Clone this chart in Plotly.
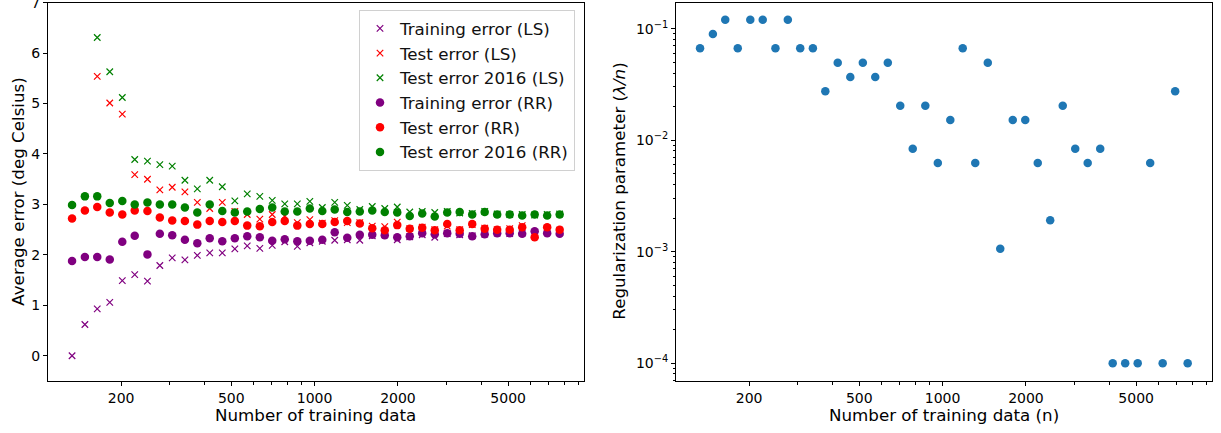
import plotly.graph_objects as go
from plotly.subplots import make_subplots

# ---------------- data ----------------
n_train = [133, 148, 164, 182, 202, 224, 249, 276, 306, 340,
           377, 418, 464, 515, 571, 634, 703, 780, 866, 961,
           1066, 1182, 1312, 1456, 1615, 1792, 1988, 2206, 2447, 2716,
           3013, 3342, 3709, 4115, 4565, 5066, 5620, 6235, 6918, 7676]

train_ls = [0.00, 0.62, 0.93, 1.06, 1.49, 1.61, 1.48, 1.79, 1.94, 1.90,
            1.99, 2.04, 2.04, 2.12, 2.18, 2.13, 2.19, 2.26, 2.17, 2.24,
            2.27, 2.29, 2.30, 2.29, 2.38, 2.40, 2.30, 2.36, 2.40, 2.35,
            2.42, 2.40, 2.38, 2.41, 2.43, 2.42, 2.43, 2.44, 2.50, 2.45]
test_ls = [None, None, 5.54, 5.01, 4.79, 3.59, 3.50, 3.29, 3.34, 3.25,
           3.04, 2.92, 3.04, 2.86, 2.80, 2.71, 2.80, 2.77, 2.64, 2.70,
           2.63, 2.68, 2.64, 2.64, 2.57, 2.56, 2.65, 2.52, 2.55, 2.50,
           2.57, 2.50, 2.60, 2.53, 2.50, 2.52, 2.58, 2.38, 2.53, 2.49]
test16_ls = [None, None, 6.31, 5.63, 5.12, 3.89, 3.86, 3.79, 3.76, 3.48,
             3.31, 3.48, 3.35, 3.07, 3.21, 3.16, 3.08, 3.01, 3.01, 3.06,
             2.94, 3.04, 2.98, 2.90, 2.96, 2.92, 2.95, 2.85, 2.86, 2.84,
             2.86, 2.83, 2.82, 2.86, 2.81, 2.80, 2.80, 2.79, 2.80, 2.81]
train_rr = [1.88, 1.96, 1.96, 1.91, 2.26, 2.38, 2.01, 2.42, 2.39, 2.30,
            2.23, 2.33, 2.27, 2.33, 2.37, 2.35, 2.28, 2.31, 2.27, 2.28,
            2.30, 2.45, 2.34, 2.40, 2.40, 2.39, 2.35, 2.37, 2.43, 2.41,
            2.43, 2.42, 2.37, 2.41, 2.43, 2.43, 2.42, 2.47, 2.43, 2.42]
test_rr = [2.72, 2.88, 2.95, 2.84, 2.80, 2.88, 2.87, 2.74, 2.68, 2.67,
           2.60, 2.67, 2.65, 2.67, 2.58, 2.57, 2.65, 2.67, 2.58, 2.61,
           2.61, 2.65, 2.67, 2.62, 2.53, 2.49, 2.59, 2.52, 2.54, 2.49,
           2.61, 2.49, 2.61, 2.52, 2.50, 2.50, 2.55, 2.35, 2.55, 2.50]
test16_rr = [2.99, 3.16, 3.16, 3.03, 3.07, 3.00, 3.04, 3.00, 3.00, 2.94,
             2.84, 3.00, 2.87, 2.84, 2.86, 2.91, 2.94, 2.86, 2.86, 2.92,
             2.87, 2.90, 2.85, 2.86, 2.88, 2.85, 2.84, 2.77, 2.82, 2.76,
             2.84, 2.85, 2.80, 2.85, 2.80, 2.80, 2.78, 2.80, 2.78, 2.80]

reg_param = [0.0667, 0.0896, 0.1205, 0.0667, 0.1205, 0.1205, 0.0667, 0.1205, 0.0667, 0.0667,
             0.0275, 0.0496, 0.0369, 0.0496, 0.0369, 0.0496, 0.0204, 0.00839, 0.0204, 0.00625,
             0.0152, 0.0667, 0.00625, 0.0496, 0.00106, 0.0152, 0.0152, 0.00625, 0.00191, 0.0204,
             0.00839, 0.00625, 0.00839, 0.0001, 0.0001, 0.0001, 0.00625, 0.0001, 0.0275, 0.0001]

x_tick_vals = [200, 500, 1000, 2000, 5000]
x_tick_text = ["200", "500", "1000", "2000", "5000"]
y1_tick_vals = [0, 1, 2, 3, 4, 5, 6, 7]
y2_tick_vals = [1e-4, 1e-3, 1e-2, 1e-1]
y2_tick_text = ["10<sup>−4</sup>", "10<sup>−3</sup>", "10<sup>−2</sup>", "10<sup>−1</sup>"]

# ---------------- figure ----------------
FONT = "DejaVu Sans"
W, H = 1221, 433
fig = make_subplots(rows=1, cols=2)

series = [
    ("Training error (LS)", train_ls, "purple", "x-thin"),
    ("Test error (LS)", test_ls, "red", "x-thin"),
    ("Test error 2016 (LS)", test16_ls, "green", "x-thin"),
    ("Training error (RR)", train_rr, "purple", "circle"),
    ("Test error (RR)", test_rr, "red", "circle"),
    ("Test error 2016 (RR)", test16_rr, "green", "circle"),
]
for i, (name, vals, col, sym) in enumerate(series):
    if sym == "circle":
        marker = dict(symbol="circle", size=8.5, color=col, line=dict(width=0))
    else:
        marker = dict(symbol="x-thin", size=6.5, color=col, line=dict(width=1.2, color=col))
    fig.add_trace(go.Scatter(x=n_train, y=vals, mode="markers", name=name, marker=marker,
                             legendgroup=f"g{i}", showlegend=True), row=1, col=1)

fig.add_trace(go.Scatter(x=n_train, y=reg_param, mode="markers", showlegend=False,
                         marker=dict(symbol="circle", size=8.5, color="#1f77b4", line=dict(width=0))),
              row=1, col=2)

minor_x = [300, 400, 600, 700, 800, 900, 3000, 4000, 6000, 7000, 8000, 9000]
minor_y2 = [m * 10 ** e for e in range(-5, 0) for m in range(2, 10) if 6.9e-5 < m * 10 ** e < 0.17]

y0, y1 = 1 - 381 / H, 1 - 2.5 / H
dom1 = [48 / W, 584 / W]
dom2 = [676 / W, 1212 / W]

axis_common = dict(showline=True, linecolor="black", linewidth=1, mirror=True,
                   showgrid=False, zeroline=False, ticks="outside", tickcolor="black",
                   tickwidth=1, ticklen=4, tickfont=dict(family=FONT, size=14, color="black"),
                   ticklabeloverflow="allow", automargin=False)

fig.update_xaxes(type="log", range=[2.037, 3.973], tickmode="array", tickvals=x_tick_vals,
                 ticktext=x_tick_text, minor=dict(ticks="outside", ticklen=2.5, tickcolor="black",
                                                   tickvals=minor_x, showgrid=False),
                 **axis_common)
fig.update_xaxes(domain=dom1, row=1, col=1)
fig.update_xaxes(domain=dom2, row=1, col=2)
fig.update_yaxes(**axis_common)
fig.update_yaxes(domain=[y0, y1], range=[-0.5, 7.003], tickmode="array",
                 tickvals=y1_tick_vals, row=1, col=1)
fig.update_yaxes(domain=[y0, y1], type="log", range=[-4.160, -0.765], tickmode="array",
                 tickvals=y2_tick_vals, ticktext=y2_tick_text,
                 minor=dict(ticks="outside", ticklen=2.5, tickcolor="black", tickvals=minor_y2,
                            showgrid=False),
                 row=1, col=2)

title_font = dict(family=FONT, size=16.7, color="black")
annos = [
    dict(x=316 / W, y=1 - 414.5 / H, text="Number of training data", textangle=0),
    dict(x=944 / W, y=1 - 414.5 / H, text="Number of training data (n)", textangle=0),
    dict(x=18 / W, y=1 - 191.7 / H, text="Average error (deg Celsius)", textangle=-90),
    dict(x=619 / W, y=1 - 191.7 / H, text="Regularization parameter (<i>λ/n</i>)", textangle=-90),
]
for a in annos:
    fig.add_annotation(xref="paper", yref="paper", showarrow=False, font=title_font,
                       xanchor="center", yanchor="middle", **a)

fig.update_layout(
    width=W, height=H, margin=dict(l=0, r=0, t=0, b=0, autoexpand=False),
    paper_bgcolor="white", plot_bgcolor="white",
    font=dict(family=FONT, size=14, color="black"),
    legend=dict(x=575 / W, y=1 - 10 / H, xanchor="right", yanchor="top",
                bgcolor="rgba(255,255,255,0.8)", bordercolor="#d0d0d0", borderwidth=1,
                font=dict(family=FONT, size=16.7, color="#111"), traceorder="grouped",
                tracegroupgap=0, itemwidth=30),
)

fig.write_html("out.html")
